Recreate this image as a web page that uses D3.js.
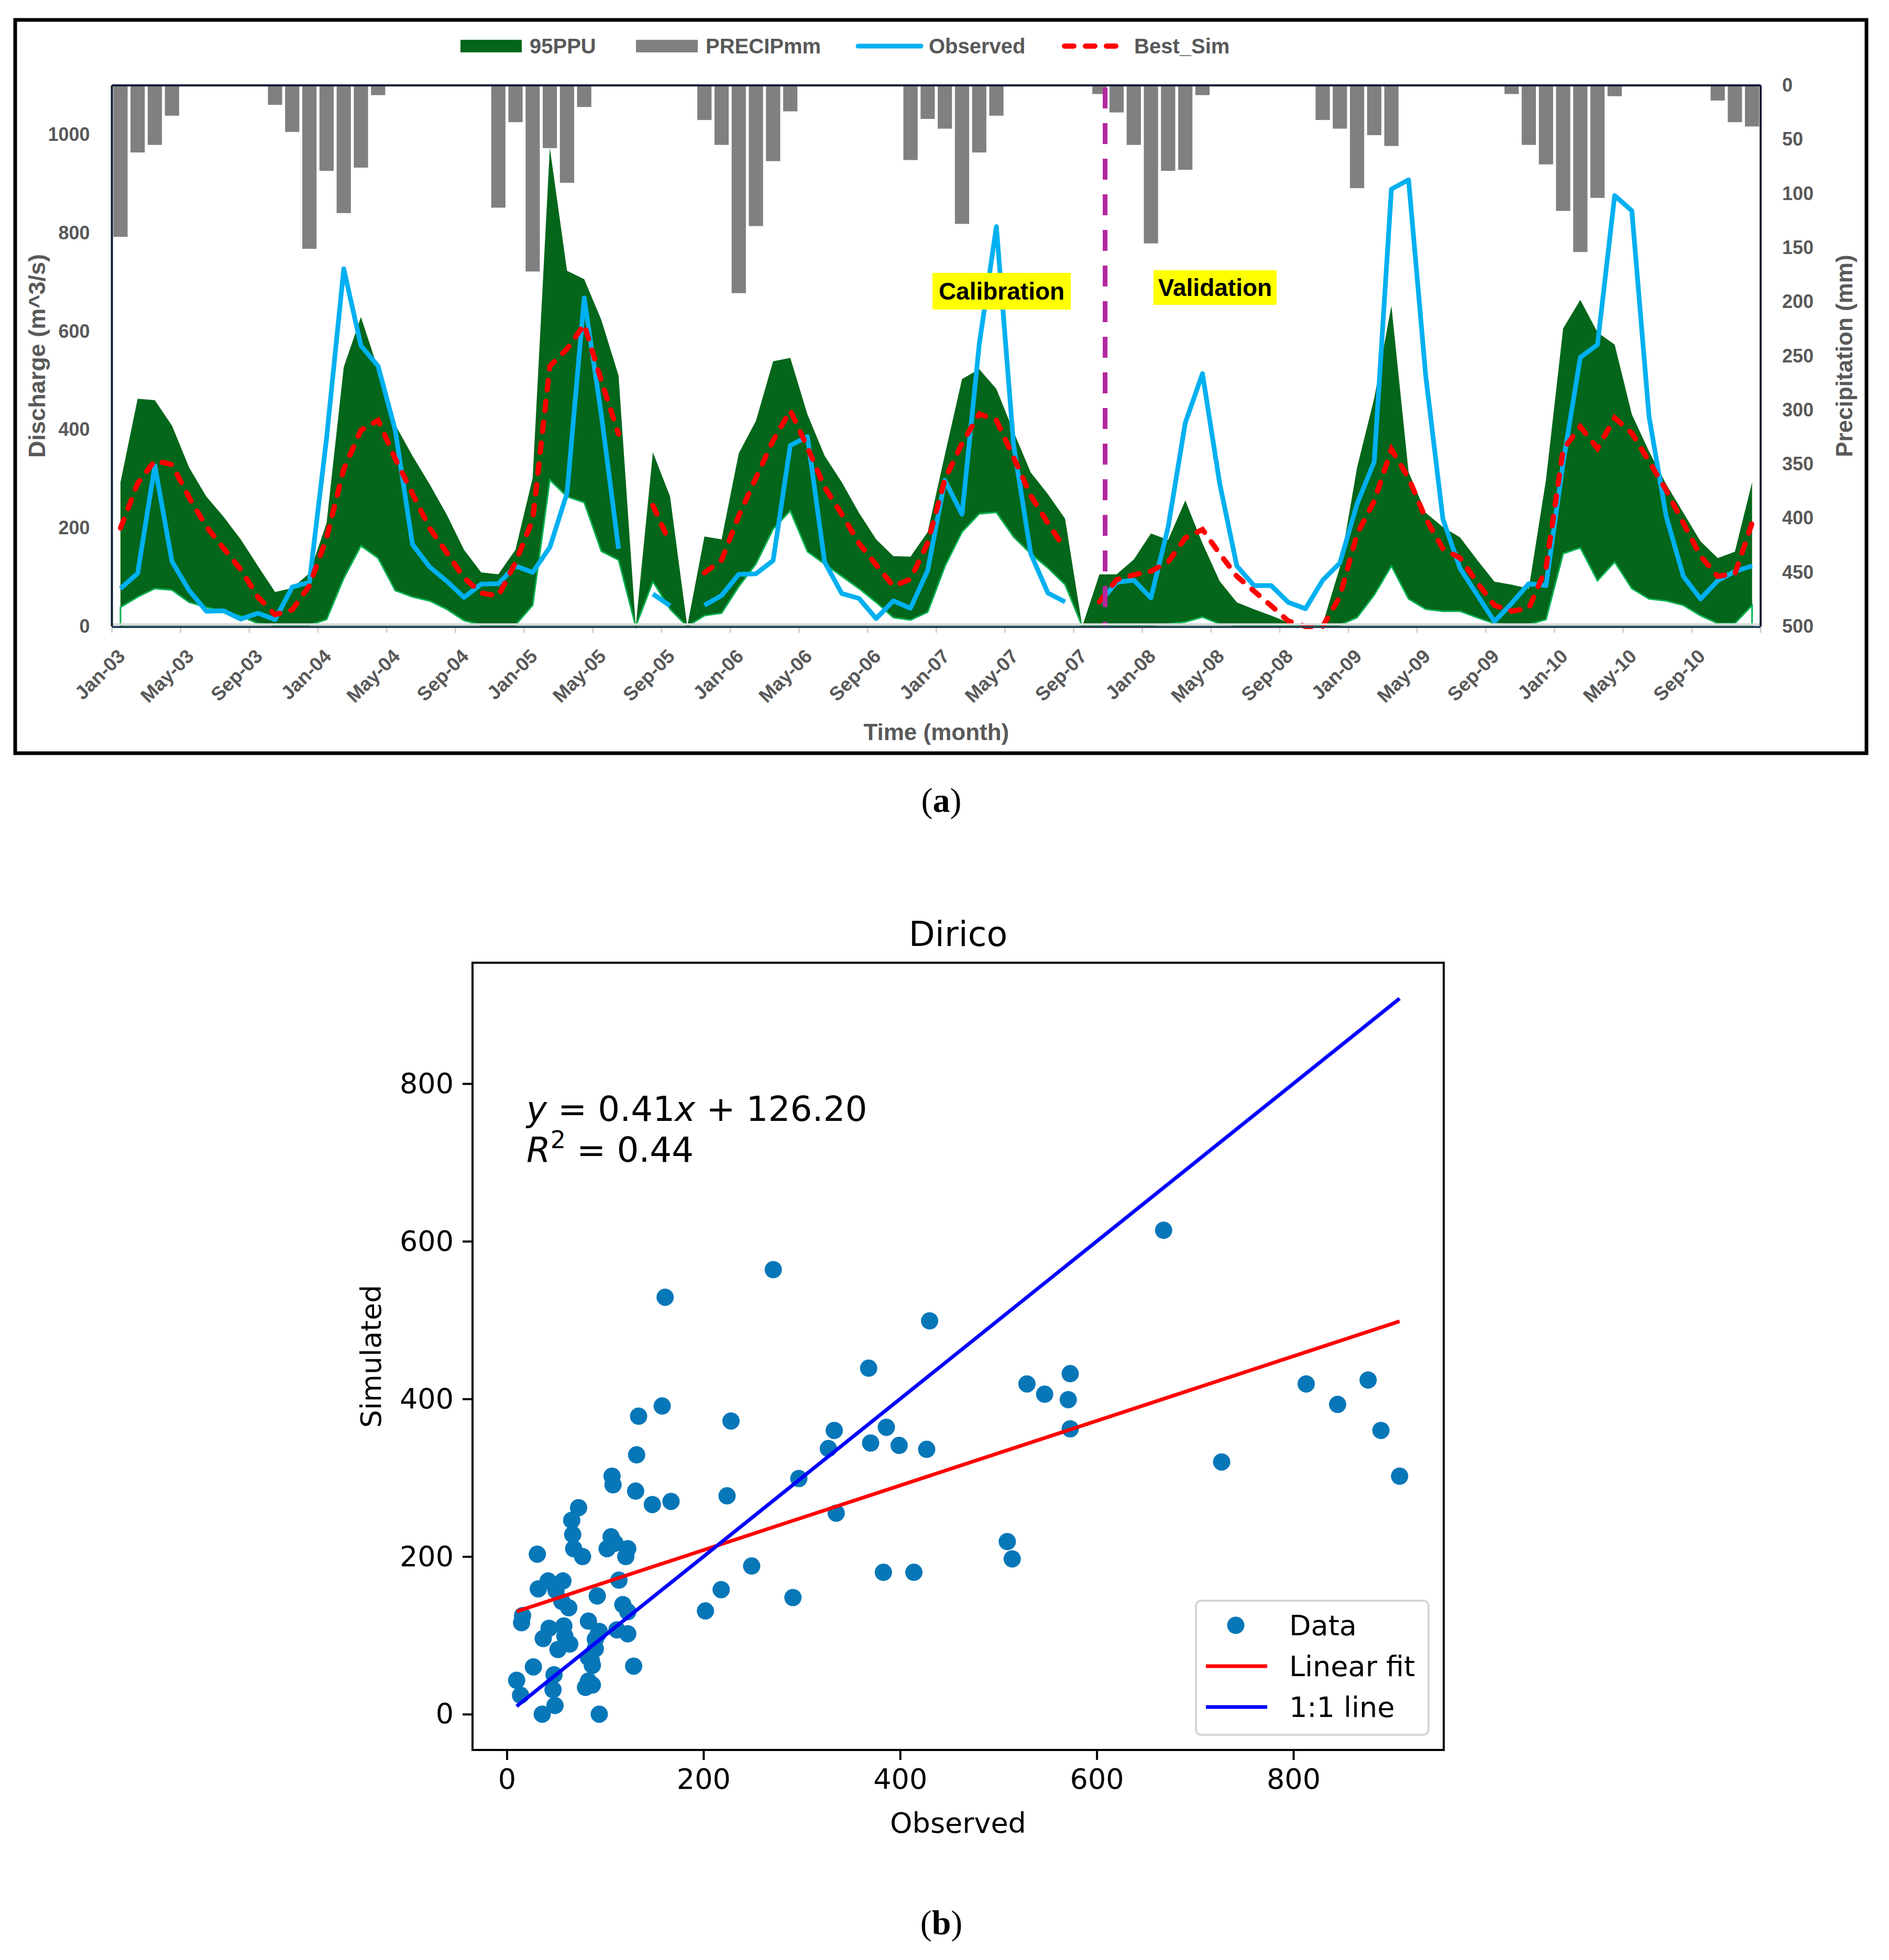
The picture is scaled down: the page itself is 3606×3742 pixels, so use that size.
<!DOCTYPE html>
<html>
<head>
<meta charset="utf-8">
<script src="https://cdn.jsdelivr.net/npm/d3@7"></script>
<style>
  body { margin: 0; background: #fff; }
  svg { display: block; }
</style>
</head>
<body>
<div id="chart"></div>
<script>

// monthly series Jan-03 .. Dec-10 (null = no record that month)
var observed = [77,108,327,132,73,31,32,15,27,14,80,90,
    383,727,571,529,399,167,121,92,59,86,87,123,
    110,161,271,668,430,158,null,66,42,null,43,63,
    106,107,134,368,386,131,67,57,16,52,37,114,
    297,228,573,813,370,148,68,50,null,48,90,94,
    58,202,414,514,291,123,83,83,49,36,94,129,
    249,335,889,908,509,218,118,64,10,47,87,83,
    333,547,573,876,845,427,224,102,56,93,112,123];

var bestSim = [200,291,337,329,262,203,159,116,60,24,34,83,
    180,320,399,419,341,270,200,150,99,68,62,130,
    217,529,564,614,499,391,null,246,169,null,109,135,
    225,302,378,439,364,283,228,169,125,82,96,170,
    299,372,432,419,344,266,210,157,null,50,95,105,
    112,131,180,197,148,102,72,42,11,0,0,61,
    188,255,360,302,219,158,139,89,43,31,37,118,
    360,406,362,424,393,336,277,210,143,102,107,210];

var ppuLow = [39,60,77,74,49,39,31,21,6,3,3,3,
    14,98,164,139,73,60,52,35,12,3,3,3,
    43,298,264,252,153,135,0,91,35,0,22,27,
    81,127,198,235,152,127,102,77,49,18,13,29,
    122,192,229,232,182,148,119,85,0,3,3,3,
    3,5,9,19,5,3,2,2,2,2,2,3,
    18,64,123,56,35,31,31,18,6,4,4,14,
    148,160,93,131,77,56,52,43,22,6,6,43];

var ppuHigh = [293,463,460,408,323,264,223,177,123,70,78,108,
    210,527,629,523,410,347,289,227,156,110,106,156,
    302,973,723,706,623,510,0,354,264,0,183,177,
    352,418,539,546,431,347,293,231,177,143,142,192,
    349,503,523,483,396,313,269,219,0,106,106,136,
    189,176,256,169,92,49,35,22,8,3,5,120,
    323,464,652,314,231,202,181,135,91,85,77,298,
    606,664,598,573,431,356,289,231,173,139,152,293];

var precip = [140,62,55,28,0,0,0,0,0,18,43,151,
    79,118,76,9,0,0,0,0,0,1,113,34,
    172,58,90,20,0,0,0,0,0,1,32,55,
    192,130,70,24,0,0,0,0,0,1,69,31,
    40,128,62,28,0,0,0,0,0,8,25,55,
    146,79,78,9,0,0,0,0,0,1,32,40,
    95,46,56,0,0,0,0,0,0,8,55,73,
    116,154,104,10,0,0,0,0,0,14,34,38];

var dischargeTicks = [0, 200, 400, 600, 800, 1000];
var precipTicks = [0, 50, 100, 150, 200, 250, 300, 350, 400, 450, 500];
var splitMonth = "Oct-07";

// regression shown in panel (b)
var fitSlope = 0.41, fitIntercept = 126.20, fitR2 = 0.44;
var scatterTicks = [0, 200, 400, 600, 800];

var months = d3.timeMonth.range(new Date(2003, 0, 1), new Date(2011, 0, 1));
var monthLabels = months.map(d3.timeFormat("%b-%y"));
var tickLabels = monthLabels.filter(function(d, i) { return i % 4 == 0; });

var rows = monthLabels.map(function(m, i) {
    return { m: m, obs: observed[i], sim: bestSim[i], lo: ppuLow[i], hi: ppuHigh[i], p: precip[i] };
});

var W = 3606, H = 3742;
var svg = d3.select("#chart").append("svg")
    .attr("width", W)
    .attr("height", H);
svg.append("rect").attr("width", W).attr("height", H).attr("fill", "#fff");

var excelFont = "'Liberation Sans', Arial, sans-serif";
var grey = "#595959";

// ================= panel (a) =================
var a = { left: 213.6, right: 3361, top: 163, bottom: 1196 };

// outer frame
svg.append("rect")
    .attr("x", 29).attr("y", 38)
    .attr("width", 3534).attr("height", 1400)
    .attr("fill", "none")
    .attr("stroke", "#000")
    .attr("stroke-width", 7);

var x = d3.scaleBand().domain(monthLabels).range([a.left, a.right]).padding(0);
var cx = function(d) { return x(d.m) + x.bandwidth() / 2; };

var yQ = d3.scaleLinear().domain([0, 1100]).range([a.bottom, a.top]);
var yP = d3.scaleLinear().domain([0, 500]).range([a.top, a.bottom]);

var gA = svg.append("g");

// 95PPU band: dark fill up to the upper bound, white cut-out below the lower bound
gA.append("path")
    .datum(rows)
    .attr("fill", "#03661a")
    .attr("d", d3.area().x(cx).y0(yQ(0)).y1(function(d) { return yQ(d.hi); }));

gA.append("path")
    .datum(rows)
    .attr("fill", "#fff")
    .attr("stroke", "#00b050")
    .attr("stroke-width", 3)
    .attr("d", d3.area().x(cx).y0(yQ(0)).y1(function(d) { return yQ(d.lo); }));

// precipitation bars hanging from the top
var barW = x.bandwidth() * 0.83;
gA.selectAll(".bar")
    .data(rows.filter(function(d) { return d.p > 0; }))
    .enter()
    .append("rect")
    .attr("class", "bar")
    .attr("x", function(d) { return x(d.m) + (x.bandwidth() - barW) / 2; })
    .attr("y", yP(0))
    .attr("width", barW)
    .attr("height", function(d) { return yP(d.p) - yP(0); })
    .attr("fill", "#808080");

// observed
gA.append("path")
    .datum(rows)
    .attr("fill", "none")
    .attr("stroke", "#00b0f0")
    .attr("stroke-width", 9)
    .attr("stroke-linejoin", "round")
    .attr("d", d3.line()
        .defined(function(d) { return d.obs != null; })
        .x(cx).y(function(d) { return yQ(d.obs); }));

// best simulation
gA.append("path")
    .datum(rows)
    .attr("fill", "none")
    .attr("stroke", "#ff0000")
    .attr("stroke-width", 10)
    .attr("stroke-linecap", "round")
    .attr("stroke-dasharray", "18,22")
    .attr("d", d3.line()
        .defined(function(d) { return d.sim != null; })
        .x(cx).y(function(d) { return yQ(d.sim); }));

// calibration / validation split
var splitX = x(splitMonth) + x.bandwidth() * 0.83;
gA.append("line")
    .attr("x1", splitX).attr("x2", splitX)
    .attr("y1", a.top + 4).attr("y2", a.bottom)
    .attr("stroke", "#b4279e")
    .attr("stroke-width", 9)
    .attr("stroke-dasharray", "40,28");

// plot borders
gA.append("line").attr("x1", a.left).attr("x2", a.right).attr("y1", a.bottom - 4).attr("y2", a.bottom - 4)
    .attr("stroke", "#d9d9d9").attr("stroke-width", 4);
gA.append("line").attr("x1", a.left).attr("x2", a.right).attr("y1", a.bottom + 1).attr("y2", a.bottom + 1)
    .attr("stroke", "#2c4256").attr("stroke-width", 4);
gA.append("line").attr("x1", a.left).attr("x2", a.right).attr("y1", a.top).attr("y2", a.top)
    .attr("stroke", "#0d1b35").attr("stroke-width", 4);
gA.append("line").attr("x1", a.left).attr("x2", a.left).attr("y1", a.top).attr("y2", a.bottom)
    .attr("stroke", "#0d1b35").attr("stroke-width", 4);
gA.append("line").attr("x1", a.right).attr("x2", a.right).attr("y1", a.top).attr("y2", a.bottom)
    .attr("stroke", "#0d1b35").attr("stroke-width", 4);

// month tick marks and labels
gA.selectAll(".mtick")
    .data(tickLabels.concat(["end"]))
    .enter()
    .append("line")
    .attr("class", "mtick")
    .attr("x1", function(d) { return d == "end" ? a.right : x(d); })
    .attr("x2", function(d) { return d == "end" ? a.right : x(d); })
    .attr("y1", a.bottom + 3).attr("y2", a.bottom + 12)
    .attr("stroke", "#d0d0d0").attr("stroke-width", 3);

gA.selectAll(".mlab")
    .data(tickLabels)
    .enter()
    .append("text")
    .attr("class", "mlab")
    .attr("transform", function(d) { return "translate(" + (x(d) + x.bandwidth() / 2 + 2) + "," + (a.bottom + 50) + ") rotate(-45)"; })
    .attr("text-anchor", "end")
    .attr("dy", "0.35em")
    .style("font-family", excelFont)
    .style("font-size", "37px")
    .style("font-weight", "bold")
    .style("fill", grey)
    .text(function(d) { return d; });

// left axis
var axL = gA.append("g")
    .attr("transform", "translate(" + a.left + ",0)")
    .call(d3.axisLeft(yQ).tickValues(dischargeTicks).tickFormat(d3.format("d")).tickSize(0).tickPadding(42));
axL.select(".domain").remove();
axL.selectAll("text")
    .style("font-family", excelFont)
    .style("font-size", "36px")
    .style("font-weight", "bold")
    .style("fill", grey);

// right axis
var axR = gA.append("g")
    .attr("transform", "translate(" + a.right + ",0)")
    .call(d3.axisRight(yP).tickValues(precipTicks).tickFormat(d3.format("d")).tickSize(0).tickPadding(41));
axR.select(".domain").remove();
axR.selectAll("text")
    .style("font-family", excelFont)
    .style("font-size", "36px")
    .style("font-weight", "bold")
    .style("fill", grey);

// axis titles
svg.append("text")
    .attr("transform", "translate(86," + ((a.top + a.bottom) / 2) + ") rotate(-90)")
    .attr("text-anchor", "middle")
    .style("font-family", excelFont).style("font-size", "45px").style("font-weight", "bold").style("fill", grey)
    .text("Discharge (m^3/s)");

svg.append("text")
    .attr("transform", "translate(3536," + ((a.top + a.bottom) / 2) + ") rotate(-90)")
    .attr("text-anchor", "middle")
    .style("font-family", excelFont).style("font-size", "44px").style("font-weight", "bold").style("fill", grey)
    .text("Precipitation (mm)");

svg.append("text")
    .attr("x", (a.left + a.right) / 2).attr("y", 1413)
    .attr("text-anchor", "middle")
    .style("font-family", excelFont).style("font-size", "44px").style("font-weight", "bold").style("fill", grey)
    .text("Time (month)");

// period labels
var periods = [
    { text: "Calibration", x: 1780, y: 521, w: 264, h: 70 },
    { text: "Validation", x: 2202, y: 516, w: 235, h: 66 }
];
periods.forEach(function(p) {
    svg.append("rect").attr("x", p.x).attr("y", p.y).attr("width", p.w).attr("height", p.h).attr("fill", "#ffff00");
    svg.append("text")
        .attr("x", p.x + p.w / 2).attr("y", p.y + p.h / 2 + 16)
        .attr("text-anchor", "middle")
        .style("font-family", excelFont).style("font-size", "46px").style("font-weight", "bold").style("fill", "#000")
        .text(p.text);
});

// legend (a)
var legA = svg.append("g").style("font-family", excelFont).style("font-size", "40px")
    .style("font-weight", "bold").style("fill", grey);
var legY = 88;
legA.append("rect").attr("x", 879).attr("y", legY - 12).attr("width", 117).attr("height", 24).attr("fill", "#03661a");
legA.append("text").attr("x", 1011).attr("y", legY + 14).text("95PPU");
legA.append("rect").attr("x", 1214).attr("y", legY - 12).attr("width", 118).attr("height", 24).attr("fill", "#808080");
legA.append("text").attr("x", 1347).attr("y", legY + 14).text("PRECIPmm");
legA.append("line").attr("x1", 1638).attr("x2", 1758).attr("y1", legY).attr("y2", legY)
    .attr("stroke", "#00b0f0").attr("stroke-width", 9).attr("stroke-linecap", "round");
legA.append("text").attr("x", 1773).attr("y", legY + 14).text("Observed");
legA.append("line").attr("x1", 2032).attr("x2", 2142).attr("y1", legY).attr("y2", legY)
    .attr("stroke", "#ff0000").attr("stroke-width", 10).attr("stroke-linecap", "round").attr("stroke-dasharray", "18,22");
legA.append("text").attr("x", 2165).attr("y", legY + 14).text("Best_Sim");

// caption (a)
var capA = svg.append("text")
    .attr("x", 1797).attr("y", 1550)
    .attr("text-anchor", "middle")
    .style("font-family", "'Liberation Serif', 'Times New Roman', serif")
    .style("font-size", "66px");
capA.append("tspan").text("(");
capA.append("tspan").style("font-weight", "bold").text("a");
capA.append("tspan").text(")");

// ================= panel (b) =================
var b = { left: 902, right: 2756, top: 1838, bottom: 3341 };
var mplFont = "'DejaVu Sans', sans-serif";

var pairs = rows.filter(function(d) { return d.obs != null && d.sim != null; });
var obsExt = d3.extent(pairs, function(d) { return d.obs; });
var simExt = d3.extent(pairs.map(function(d) { return d.sim; }).concat(obsExt));
function pad(e) { var r = e[1] - e[0]; return [e[0] - 0.05 * r, e[1] + 0.05 * r]; }

var xs = d3.scaleLinear().domain(pad(obsExt)).range([b.left, b.right]);
var ys = d3.scaleLinear().domain(pad(simExt)).range([b.bottom, b.top]);

var gB = svg.append("g");

gB.selectAll(".pt")
    .data(pairs)
    .enter()
    .append("circle")
    .attr("class", "pt")
    .attr("cx", function(d) { return xs(d.obs); })
    .attr("cy", function(d) { return ys(d.sim); })
    .attr("r", 16.5)
    .attr("fill", "#0777b8");

// linear fit
gB.append("line")
    .attr("x1", xs(obsExt[0])).attr("y1", ys(fitSlope * obsExt[0] + fitIntercept))
    .attr("x2", xs(obsExt[1])).attr("y2", ys(fitSlope * obsExt[1] + fitIntercept))
    .attr("stroke", "#ff0000").attr("stroke-width", 7);

// 1:1 line
gB.append("line")
    .attr("x1", xs(obsExt[0])).attr("y1", ys(obsExt[0]))
    .attr("x2", xs(obsExt[1])).attr("y2", ys(obsExt[1]))
    .attr("stroke", "#0000ff").attr("stroke-width", 7);

gB.append("rect")
    .attr("x", b.left).attr("y", b.top)
    .attr("width", b.right - b.left).attr("height", b.bottom - b.top)
    .attr("fill", "none").attr("stroke", "#000").attr("stroke-width", 4);

var axB = gB.append("g")
    .attr("transform", "translate(0," + b.bottom + ")")
    .call(d3.axisBottom(xs).tickValues(scatterTicks).tickSize(19).tickPadding(17));
var axBL = gB.append("g")
    .attr("transform", "translate(" + b.left + ",0)")
    .call(d3.axisLeft(ys).tickValues(scatterTicks).tickSize(19).tickPadding(17));
[axB, axBL].forEach(function(g) {
    g.select(".domain").remove();
    g.selectAll(".tick line").attr("stroke", "#000").attr("stroke-width", 4);
    g.selectAll("text").style("font-family", mplFont).style("font-size", "54px").style("fill", "#000");
});

svg.append("text")
    .attr("x", (b.left + b.right) / 2).attr("y", 3499)
    .attr("text-anchor", "middle")
    .style("font-family", mplFont).style("font-size", "54px")
    .text("Observed");

svg.append("text")
    .attr("transform", "translate(727," + ((b.top + b.bottom) / 2) + ") rotate(-90)")
    .attr("text-anchor", "middle")
    .style("font-family", mplFont).style("font-size", "54px")
    .text("Simulated");

svg.append("text")
    .attr("x", (b.left + b.right) / 2).attr("y", 1806)
    .attr("text-anchor", "middle")
    .style("font-family", mplFont).style("font-size", "65px")
    .text("Dirico");

// regression text
var eq1 = svg.append("text").attr("x", 1005).attr("y", 2140)
    .style("font-family", mplFont).style("font-size", "66px");
eq1.append("tspan").style("font-style", "italic").text("y");
eq1.append("tspan").text(" = " + fitSlope.toFixed(2));
eq1.append("tspan").style("font-style", "italic").text("x");
eq1.append("tspan").text(" + " + fitIntercept.toFixed(2));

var eq2 = svg.append("text").attr("x", 1005).attr("y", 2218)
    .style("font-family", mplFont).style("font-size", "66px");
eq2.append("tspan").style("font-style", "italic").text("R");
eq2.append("tspan").attr("dy", -26).style("font-size", "46px").text("2");
eq2.append("tspan").attr("dy", 26).text(" = " + fitR2.toFixed(2));

// legend (b)
var legB = svg.append("g").style("font-family", mplFont).style("font-size", "54px");
legB.append("rect")
    .attr("x", 2283).attr("y", 3056).attr("width", 444).attr("height", 256)
    .attr("rx", 10)
    .attr("fill", "#fff").attr("fill-opacity", 0.8)
    .attr("stroke", "#d6d6d6").attr("stroke-width", 4);
legB.append("circle").attr("cx", 2359).attr("cy", 3103).attr("r", 16.5).attr("fill", "#0777b8");
legB.append("text").attr("x", 2461).attr("y", 3122).text("Data");
legB.append("line").attr("x1", 2302).attr("x2", 2419).attr("y1", 3181).attr("y2", 3181)
    .attr("stroke", "#ff0000").attr("stroke-width", 7);
legB.append("text").attr("x", 2461).attr("y", 3200).text("Linear fit");
legB.append("line").attr("x1", 2302).attr("x2", 2419).attr("y1", 3259).attr("y2", 3259)
    .attr("stroke", "#0000ff").attr("stroke-width", 7);
legB.append("text").attr("x", 2461).attr("y", 3278).text("1:1 line");

// caption (b)
var capB = svg.append("text")
    .attr("x", 1797).attr("y", 3693)
    .attr("text-anchor", "middle")
    .style("font-family", "'Liberation Serif', 'Times New Roman', serif")
    .style("font-size", "66px");
capB.append("tspan").text("(");
capB.append("tspan").style("font-weight", "bold").text("b");
capB.append("tspan").text(")");

</script>
</body>
</html>
